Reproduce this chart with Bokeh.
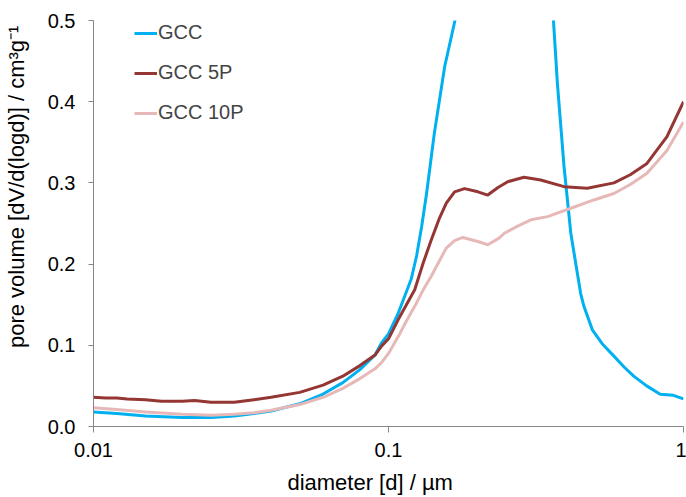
from bokeh.plotting import figure
from bokeh.models import FixedTicker, Legend, LegendItem, Range1d
from bokeh.embed import file_html
from bokeh.resources import INLINE

# --- data ---
d_gcc = [0.01, 0.012, 0.015, 0.02, 0.025, 0.03, 0.035, 0.04, 0.05, 0.06, 0.07, 0.08, 0.09,
         0.0947, 0.1, 0.108, 0.115, 0.1195, 0.1245, 0.1295, 0.1346, 0.143, 0.155, 0.168, 0.185,
         0.21, 0.25, 0.3, 0.34, 0.3624, 0.3738, 0.3936, 0.415, 0.4365, 0.448, 0.4597, 0.491,
         0.53, 0.581, 0.63, 0.678, 0.75, 0.834, 0.924, 1.0]
v_gcc = [0.018, 0.016, 0.013, 0.011, 0.011, 0.013, 0.016, 0.019, 0.028, 0.040, 0.054, 0.070, 0.088,
         0.103, 0.114, 0.140, 0.166, 0.182, 0.210, 0.246, 0.287, 0.361, 0.443, 0.500, 0.60,
         0.75, 0.90, 0.85, 0.62, 0.500, 0.422, 0.320, 0.238, 0.189, 0.164, 0.148, 0.119,
         0.102, 0.0867, 0.073, 0.062, 0.050, 0.0397, 0.0384, 0.034]

d_5p = [0.01, 0.011, 0.012, 0.013, 0.015, 0.017, 0.02, 0.022, 0.025, 0.028, 0.03, 0.035, 0.04,
        0.05, 0.06, 0.07, 0.08, 0.09, 0.0947, 0.1, 0.108, 0.115, 0.1227, 0.131, 0.1396, 0.149,
        0.157, 0.1675, 0.181, 0.201, 0.217, 0.2344, 0.2535, 0.288, 0.328, 0.3936, 0.472, 0.581,
        0.66, 0.752, 0.879, 1.0]
v_5p = [0.036, 0.035, 0.035, 0.034, 0.033, 0.031, 0.031, 0.032, 0.030, 0.030, 0.030, 0.033, 0.036,
        0.042, 0.051, 0.062, 0.075, 0.088, 0.099, 0.108, 0.132, 0.150, 0.1685, 0.201, 0.2297, 0.257,
        0.275, 0.289, 0.293, 0.289, 0.285, 0.294, 0.3015, 0.307, 0.3036, 0.2954, 0.2934, 0.300,
        0.310, 0.324, 0.357, 0.400]

d_10p = [0.01, 0.012, 0.015, 0.02, 0.025, 0.03, 0.035, 0.04, 0.05, 0.06, 0.07, 0.08, 0.09,
         0.0947, 0.1, 0.108, 0.115, 0.1227, 0.131, 0.1396, 0.149, 0.157, 0.1675, 0.1786, 0.201,
         0.217, 0.237, 0.247, 0.275, 0.304, 0.346, 0.415, 0.4966, 0.581, 0.66, 0.752, 0.879, 1.0]
v_10p = [0.023, 0.021, 0.018, 0.015, 0.014, 0.015, 0.017, 0.020, 0.027, 0.036, 0.047, 0.059, 0.071,
         0.0786, 0.090, 0.111, 0.130, 0.148, 0.168, 0.185, 0.2045, 0.2197, 0.229, 0.2328, 0.2278,
         0.2238, 0.232, 0.238, 0.247, 0.2545, 0.2585, 0.2688, 0.279, 0.287, 0.298, 0.312, 0.340, 0.375]

series = [("GCC", d_gcc, v_gcc, "#00B0F0"),
          ("GCC 5P", d_5p, v_5p, "#943634"),
          ("GCC 10P", d_10p, v_10p, "#E6B9B8")]

x_ticks = [0.01, 0.1, 1]
x_tick_labels = {0.01: "0.01", 0.1: "0.1", 1: "1"}
y_ticks = [0.0, 0.1, 0.2, 0.3, 0.4, 0.5]
y_tick_labels = {t: f"{t:.1f}" for t in y_ticks}

x_title = "diameter [d] / µm"
y_title = "pore volume [dV/d(logd)] / cm³g⁻¹"

FONT = "Liberation Sans"
NBSP = "\u00a0"

p = figure(width=686, height=497, x_axis_type="log", output_backend="svg",
           toolbar_location=None, x_range=Range1d(0.01, 1), y_range=Range1d(0, 0.5),
           min_border_left=91, min_border_right=3, min_border_top=20, min_border_bottom=70)
p.outline_line_color = None
p.xgrid.visible = False
p.ygrid.visible = False
p.background_fill_color = "white"
p.border_fill_color = "white"

items = []
for name, xs, ys, col in series:
    r = p.line(xs, ys, line_color=col, line_width=3, line_join="round")
    items.append(LegendItem(label=name, renderers=[r]))

for ax in (p.xaxis[0], p.yaxis[0]):
    ax.axis_line_color = "#868686"
    ax.major_tick_line_color = "#868686"
    ax.minor_tick_line_color = None
    ax.major_tick_in = 0
    ax.major_label_text_font = FONT
    ax.major_label_text_font_size = "20px"
    ax.major_label_text_color = "black"
    ax.axis_label_text_font = FONT
    ax.axis_label_text_font_size = "22px"
    ax.axis_label_text_font_style = "normal"
    ax.axis_label_text_color = "black"

p.xaxis[0].ticker = FixedTicker(ticks=x_ticks)
p.xaxis[0].major_label_overrides = x_tick_labels
p.xaxis[0].major_tick_out = 6
p.xaxis[0].major_label_standoff = 10
# trailing non-breaking spaces shift the centred title left, as in the reference
p.xaxis[0].axis_label = x_title + NBSP * 6
p.xaxis[0].axis_label_standoff = 10

p.yaxis[0].ticker = FixedTicker(ticks=y_ticks)
p.yaxis[0].major_label_overrides = y_tick_labels
p.yaxis[0].major_tick_out = 5
p.yaxis[0].major_label_standoff = 13
# leading non-breaking spaces shift the centred title upwards, as in the reference
p.yaxis[0].axis_label = NBSP * 12 + y_title
p.yaxis[0].axis_label_standoff = 16

legend = Legend(items=items, location=(41, 302), padding=0, spacing=17,
                glyph_height=20, label_height=20, glyph_width=23, label_standoff=1,
                border_line_color=None, background_fill_alpha=0,
                label_text_font=FONT, label_text_font_size="20px")
p.add_layout(legend)

open("out.html", "w").write(file_html(p, INLINE))
